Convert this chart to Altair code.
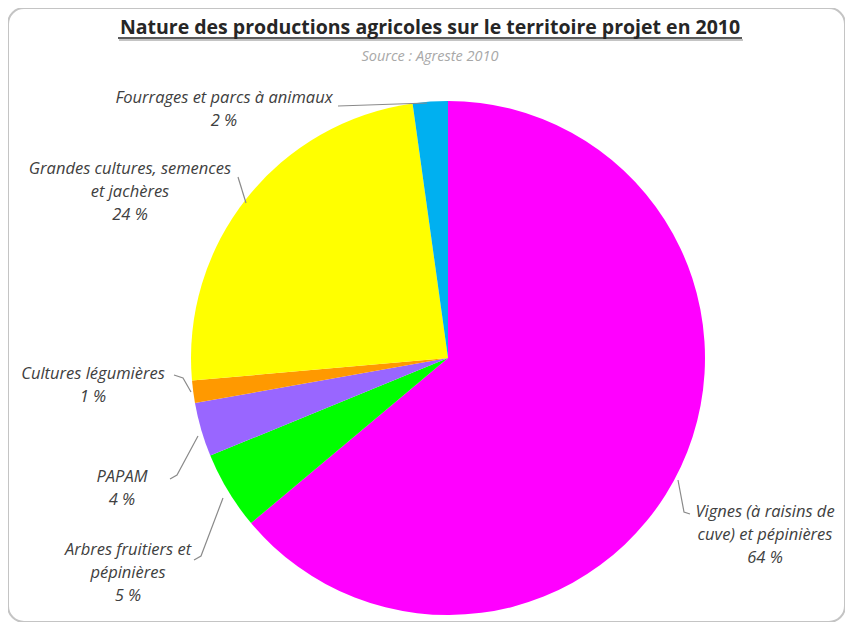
import altair as alt
import pandas as pd

# ---- data ----
categories = [
    "Vignes (à raisins de cuve) et pépinières",
    "Arbres fruitiers et pépinières",
    "PAPAM",
    "Cultures légumières",
    "Grandes cultures, semences et jachères",
    "Fourrages et parcs à animaux",
]
shares = [63.9, 4.9, 3.4, 1.4, 24.2, 2.2]
pct_labels = ["64 %", "5 %", "4 %", "1 %", "24 %", "2 %"]
colors = ["#FF00FF", "#00FF00", "#9966FF", "#FF9900", "#FFFF00", "#00B0F0"]

title_text = "Nature des productions agricoles sur le territoire projet en 2010"
subtitle_text = "Source : Agreste 2010"

# ---- layout (view pixel coords; page coords minus 8px margin) ----
OFF = 8
label_lines = [
    ["Vignes (à raisins de", "cuve) et pépinières"],
    ["Arbres fruitiers et", "pépinières"],
    ["PAPAM"],
    ["Cultures légumières"],
    ["Grandes cultures, semences", "et jachères"],
    ["Fourrages et parcs à animaux"],
]
label_pos = [  # (center x, first line y) in page coords
    (765, 512),
    (128, 550),
    (122, 477),
    (93, 374),
    (130, 169),
    (224, 98),
]
line_gap = 23
leaders = [
    [(678, 480), (684, 512), (690, 514)],
    [(194, 560), (201, 556), (223, 498)],
    [(170, 479), (177, 475), (198, 436)],
    [(174, 375), (183, 378), (191, 392)],
    [(238, 177), (246, 203)],
    [(338, 106), (427, 103)],
]

W, H = 837, 614
CX, CY, R = 448 - OFF, 358 - OFF, 257

pie_df = pd.DataFrame({
    "cat": categories,
    "share": shares,
    "idx": list(range(len(categories))),
})

rows = []
for i, (lines, (x, y)) in enumerate(zip(label_lines, label_pos)):
    all_lines = lines + [pct_labels[i]]
    for j, t in enumerate(all_lines):
        rows.append({"x": x - OFF, "y": y - OFF + j * line_gap, "t": t})
label_df = pd.DataFrame(rows)

lrows = []
for i, pts in enumerate(leaders):
    for k, (x, y) in enumerate(pts):
        lrows.append({"g": i, "k": k, "x": x - OFF, "y": y - OFF})
leader_df = pd.DataFrame(lrows)

pie = alt.Chart(pie_df).mark_arc(radius=R, stroke=None).encode(
    theta=alt.Theta("share:Q", stack=True),
    order=alt.Order("idx:Q"),
    color=alt.Color("cat:N", scale=alt.Scale(domain=categories, range=colors), legend=None),
    x=alt.value(CX),
    y=alt.value(CY),
)

labels = alt.Chart(label_df).mark_text(
    font="Open Sans", fontStyle="italic", fontSize=16.5, color="#404040",
    align="center", baseline="middle",
).encode(
    x=alt.X("x:Q", scale=None),
    y=alt.Y("y:Q", scale=None),
    text="t:N",
)

leader_lines = alt.Chart(leader_df).mark_line(color="#8a8a8a", strokeWidth=1.2).encode(
    x=alt.X("x:Q", scale=None),
    y=alt.Y("y:Q", scale=None),
    detail="g:N",
    order="k:Q",
)

title_df = pd.DataFrame({"t": [title_text]})
title = alt.Chart(title_df).mark_text(
    font="Open Sans", fontWeight="bold", fontSize=19.5, color="#262626",
    align="center", baseline="alphabetic",
).encode(x=alt.value(430 - OFF), y=alt.value(34 - OFF), text="t:N")

underline = alt.Chart(title_df).mark_rule(color="#262626", strokeWidth=1.3).encode(
    x=alt.value(118 - OFF), x2=alt.value(742 - OFF), y=alt.value(38 - OFF)
)
underline_shadow = alt.Chart(title_df).mark_rule(color="#b0b0b0", strokeWidth=1.5).encode(
    x=alt.value(119 - OFF), x2=alt.value(743 - OFF), y=alt.value(40 - OFF)
)

subtitle = alt.Chart(pd.DataFrame({"t": [subtitle_text]})).mark_text(
    font="Open Sans", fontStyle="italic", fontSize=14.5, color="#a8a8a8",
    align="center", baseline="middle",
).encode(x=alt.value(430 - OFF), y=alt.value(57 - OFF), text="t:N")

chart = alt.layer(
    pie, leader_lines, labels, underline_shadow, underline, title, subtitle
).properties(
    width=W, height=H, padding=0, autosize=alt.AutoSizeParams(type="none"),
    background="white",
).configure_view(
    stroke="#c4c4c4", strokeWidth=2, cornerRadius=16,
)

chart.save("out.html", embed_options={"renderer": "svg", "actions": False})
